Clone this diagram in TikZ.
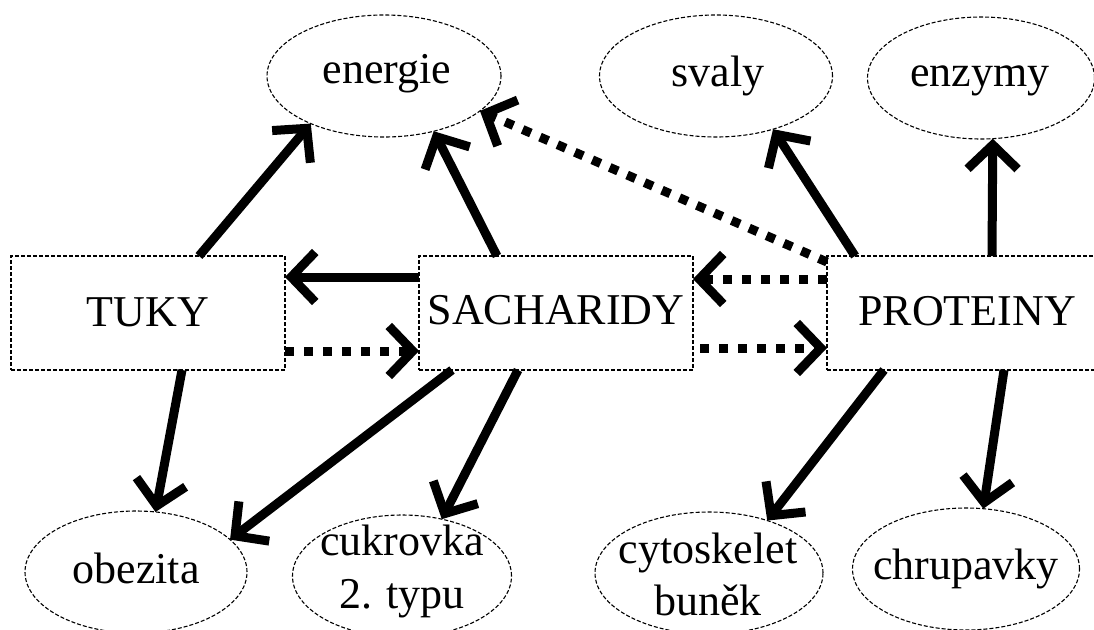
\documentclass[tikz,border=0pt]{standalone}
\usepackage{fontspec}
\setmainfont{Liberation Serif}
\usetikzlibrary{arrows.meta,shapes.geometric}
\begin{document}
\begin{tikzpicture}[x=1pt,y=-1pt,
  bubble/.style={draw, ellipse, line width=1.1pt, dash pattern=on 4pt off 2pt, inner sep=0pt, outer sep=0pt},
  boxnode/.style={draw, rectangle, line width=1.1pt, dash pattern=on 4pt off 2pt, inner sep=0pt, outer sep=0pt,
    minimum width=274pt, minimum height=114pt},
  txt/.style={align=center, inner sep=0pt, font=\fontsize{44}{52}\selectfont},
  link/.style={line width=9pt, -{Straight Barb[length=24pt,width=50pt]}},
  dotlink/.style={link, dash pattern=on 9pt off 10pt}]
\useasboundingbox (0,0) rectangle (1094,629);
\clip (0,0) rectangle (1094,629);
% ellipses
\node[bubble, minimum width=234pt, minimum height=122pt] (energie) at (384,76) {};
\node[txt, anchor=base] at (387,83) {energie};
\node[bubble, minimum width=233pt, minimum height=122pt] (svaly) at (716,76) {};
\node[txt, anchor=base] at (718,86) {svaly};
\node[bubble, minimum width=227pt, minimum height=122pt] (enzymy) at (981,78) {};
\node[txt, anchor=base] at (980,86) {enzymy};
\node[bubble, minimum width=222pt, minimum height=122pt] (obezita) at (136,572) {};
\node[txt, anchor=base] at (136,583) {obezita};
\node[bubble, minimum width=219pt, minimum height=122pt] (cukrovka) at (402,576) {};
\node[txt] at (402,571) {cukrovka\\[1pt]2. typu};
\node[bubble, minimum width=228pt, minimum height=122pt] (cyto) at (709,573) {};
\node[txt] at (708,574) {cytoskelet\\buněk};
\node[bubble, minimum width=227pt, minimum height=122pt] (chrup) at (966,569) {};
\node[txt, anchor=base] at (966,579) {chrupavky};
% boxes
\node[boxnode] (tuky) at (148,313) {};
\node[txt, anchor=base] at (tuky.center |- 0,326) {TUKY};
\node[boxnode] (sach) at (556,313) {};
\node[txt, anchor=base] at (sach.center |- 0,324) {SACHARIDY};
\node[boxnode, minimum width=280pt] (prot) at (967,313) {};
\node[txt, anchor=base] at (prot.center |- 0,325) {PROTEINY};
% connectors
\draw[link] ([xshift=51pt]tuky.north) -- (energie.213.5);
\draw[link] ([xshift=-59pt]sach.north) -- (energie.312.3);
\draw[dotlink] ([yshift=-6pt]prot.north west) -- (energie.340.4);
\draw[link] ([xshift=-112pt]prot.north) -- (svaly.317.6);
\draw[link] ([xshift=25pt]prot.north) -- (enzymy.281.3);
\draw[link] ([yshift=36pt]sach.west) -- ([yshift=36pt]tuky.east);
\draw[dotlink] ([yshift=-38pt]tuky.east) -- ([yshift=-38pt]sach.west);
\draw[dotlink] ([yshift=34pt]prot.west) -- ([yshift=34pt]sach.east);
\draw[dotlink, shorten <=7pt] ([yshift=-35pt]sach.east) -- ([yshift=-35pt]prot.west);
\draw[link] ([xshift=34pt]tuky.south) -- (obezita.72.4);
\draw[link] ([xshift=-104pt]sach.south) -- (obezita.19.9);
\draw[link] ([xshift=-38pt]sach.south) -- (cukrovka.55.7);
\draw[link] ([xshift=-83pt]prot.south) -- (cyto.42.4);
\draw[link] ([xshift=37pt]prot.south) -- (chrup.74.3);
\end{tikzpicture}
\end{document}
